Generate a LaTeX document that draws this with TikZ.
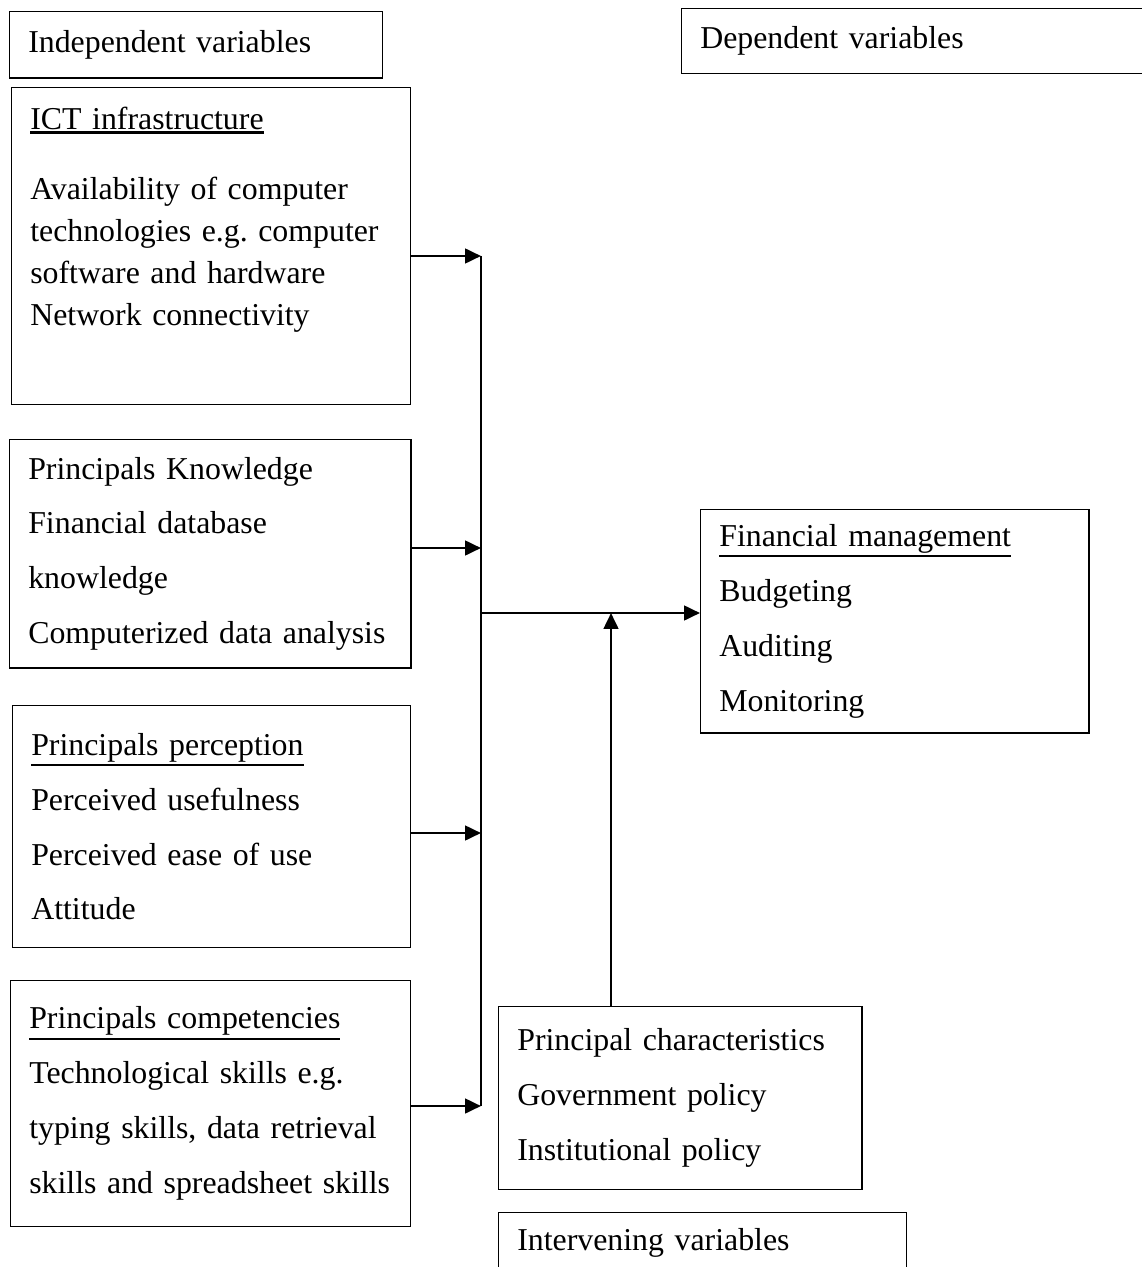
\documentclass[tikz,border=0pt]{standalone}
\usepackage{fontspec}
\setmainfont[WordSpace=0.9]{Liberation Serif}
\usetikzlibrary{arrows.meta}
\newcommand{\uln}[1]{\leavevmode\vtop{\hbox{#1}\kern0.7pt\hrule height 0.8pt}}

\begin{document}
\begin{tikzpicture}
	[x=0.377pt,y=-0.377pt,
	 box/.style={draw,line width=0.55pt,anchor=north west,align=left,inner xsep=7pt,inner ysep=0pt,font=\fontsize{12}{20.7}\selectfont},
	 bus/.style={line width=1pt,black},
	 arr/.style={line width=1pt,-{Triangle[length=6pt,width=5.5pt]}}]

	\useasboundingbox (0,0) rectangle (1141,1267);

	\node[box,text width=126.6pt,minimum height=24.9pt] (indep) at (9,11) {Independent variables};
	\node[box,text width=163.2pt,minimum height=24.5pt] (dep) at (681,8) {Dependent variables};

	\node[box,text width=136.4pt,minimum height=119.5pt,font=\fontsize{12}{15.8}\selectfont] (ict) at (11,87)
		{\uln{ICT infrastructure}\\[10.6pt]Availability of computer\\technologies e.g.\ computer\\software and hardware\\Network connectivity\\[7pt]\mbox{}};
	\node[box,text width=137.2pt,minimum height=86pt] (know) at (9,439)
		{Principals Knowledge\\Financial database\\knowledge\\Computerized data analysis};
	\node[box,text width=136pt,minimum height=91.2pt] (perc) at (12,705)
		{\uln{Principals perception}\\Perceived usefulness\\Perceived ease of use\\Attitude};
	\node[box,text width=136.8pt,minimum height=92.7pt] (comp) at (10,980)
		{\uln{Principals competencies}\\Technological skills e.g.\\typing skills, data retrieval\\skills and spreadsheet skills};

	\node[box,text width=132.3pt,minimum height=84.1pt] (fin) at (700,509)
		{\uln{Financial management}\\Budgeting\\Auditing\\Monitoring};
	\node[box,text width=122.9pt,minimum height=69pt] (pchar) at (498,1006)
		{Principal characteristics\\Government policy\\Institutional policy};
	\node[box,text width=139.8pt,minimum height=22.6pt] (interv) at (498,1212) {Intervening variables};

	\coordinate (jict) at (481,256);
	\coordinate (jknow) at (481,548);
	\coordinate (jout) at (481,613);
	\coordinate (jperc) at (481,833);
	\coordinate (jcomp) at (481,1106);
	\coordinate (jint) at (611,613);

	\draw[bus] (jict) -- (jcomp);
	\draw[arr] (ict.east |- jict) -- (jict);
	\draw[arr] (know.east |- jknow) -- (jknow);
	\draw[arr] (perc.east |- jperc) -- (jperc);
	\draw[arr] (comp.east |- jcomp) -- (jcomp);
	\draw[arr] (jout) -- (fin.west |- jout);
	\draw[arr] (pchar.north -| jint) -- (jint);
\end{tikzpicture}
\end{document}
